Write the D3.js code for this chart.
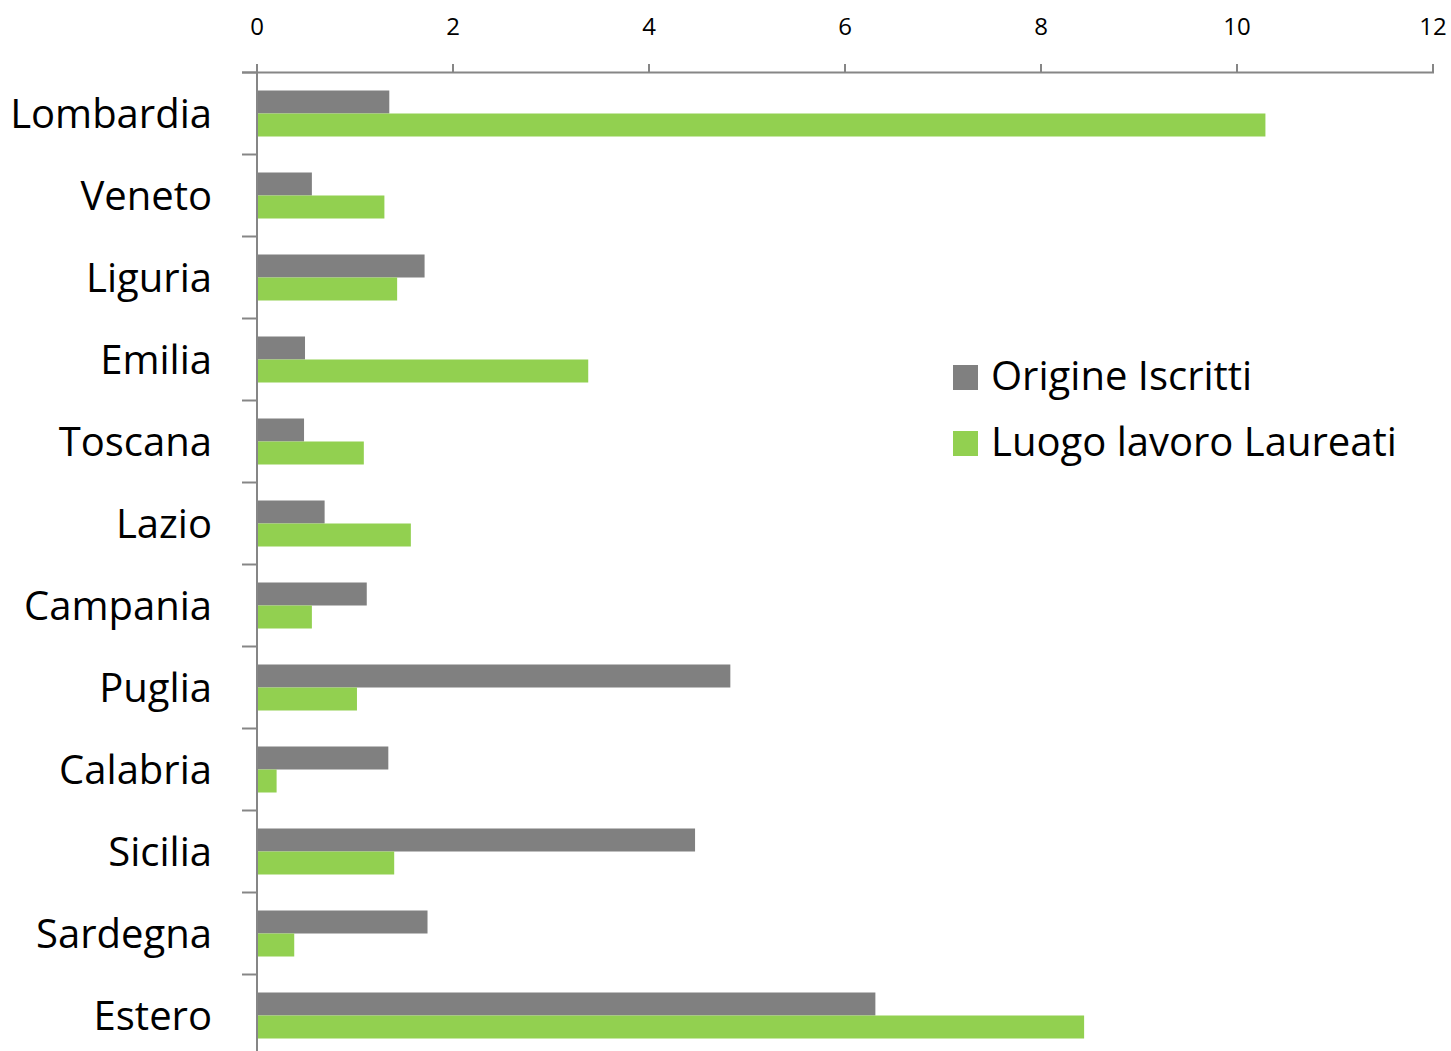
<!DOCTYPE html>
<html>
<head>
<meta charset="utf-8">
<script src="https://cdn.jsdelivr.net/npm/d3@7"></script>
<style>
  html, body { margin: 0; padding: 0; background: #fff; }
  svg { display: block; font-family: "Open Sans", sans-serif; }
</style>
</head>
<body>
<svg id="chart" width="1451" height="1051"></svg>
<script>
const categories = ["Lombardia","Veneto","Liguria","Emilia","Toscana","Lazio","Campania","Puglia","Calabria","Sicilia","Sardegna","Estero"];
const seriesNames = ["Origine Iscritti","Luogo lavoro Laureati"];
const origineIscritti = [1.35,0.56,1.71,0.49,0.48,0.69,1.12,4.83,1.34,4.47,1.74,6.31];
const luogoLavoro = [10.29,1.30,1.43,3.38,1.09,1.57,0.56,1.02,0.20,1.40,0.38,8.44];
const tickValues = [0,2,4,6,8,10,12];
const colors = ["#808080","#92D050"];

const svg = d3.select("#chart");
const x = d3.scaleLinear().domain([0,12]).range([257,1433]);
const y = d3.scaleBand().domain(categories).range([72.5, 72.5 + 12*82]).padding(0);
const ySub = d3.scaleBand().domain(seriesNames).range([18, 64]).padding(0);
const axisColor = "#868686";

const data = categories.map((c,i)=>({cat:c, values:[origineIscritti[i], luogoLavoro[i]]}));

// bars
const g = svg.append("g");
data.forEach(d=>{
  seriesNames.forEach((s,j)=>{
    g.append("rect")
      .attr("x", x(0))
      .attr("y", y(d.cat) + ySub(s))
      .attr("width", x(d.values[j]) - x(0))
      .attr("height", ySub.bandwidth())
      .attr("fill", colors[j]);
  });
});

// top axis
const ax = svg.append("g");
ax.append("line").attr("x1",242).attr("x2",x(12)+1).attr("y1",72.5).attr("y2",72.5)
  .attr("stroke",axisColor).attr("stroke-width",2);
tickValues.forEach(v=>{
  ax.append("line").attr("x1",x(v)).attr("x2",x(v)).attr("y1",64).attr("y2",72.5)
    .attr("stroke",axisColor).attr("stroke-width",2);
  ax.append("text").attr("x",x(v)).attr("y",35).attr("text-anchor","middle")
    .attr("font-size",24).attr("fill","#000").text(d3.format("d")(v));
});

// left axis
ax.append("line").attr("x1",x(0)).attr("x2",x(0)).attr("y1",64).attr("y2",1051)
  .attr("stroke",axisColor).attr("stroke-width",2);
categories.forEach(c=>{
  ax.append("line").attr("x1",242).attr("x2",x(0)).attr("y1",y(c)).attr("y2",y(c))
    .attr("stroke",axisColor).attr("stroke-width",2);
  ax.append("text").attr("x",212).attr("y",y(c)+y.bandwidth()/2+14)
    .attr("text-anchor","end").attr("font-size",40).attr("fill","#000").text(c);
});

// legend
const leg = svg.append("g");
seriesNames.forEach((s,j)=>{
  const ly = 377 + j*66;
  leg.append("rect").attr("x",953).attr("y",ly-12).attr("width",25).attr("height",25).attr("fill",colors[j]);
  leg.append("text").attr("x",991).attr("y",ly+13).attr("font-size",40).attr("fill","#000").text(s);
});
</script>
</body>
</html>
